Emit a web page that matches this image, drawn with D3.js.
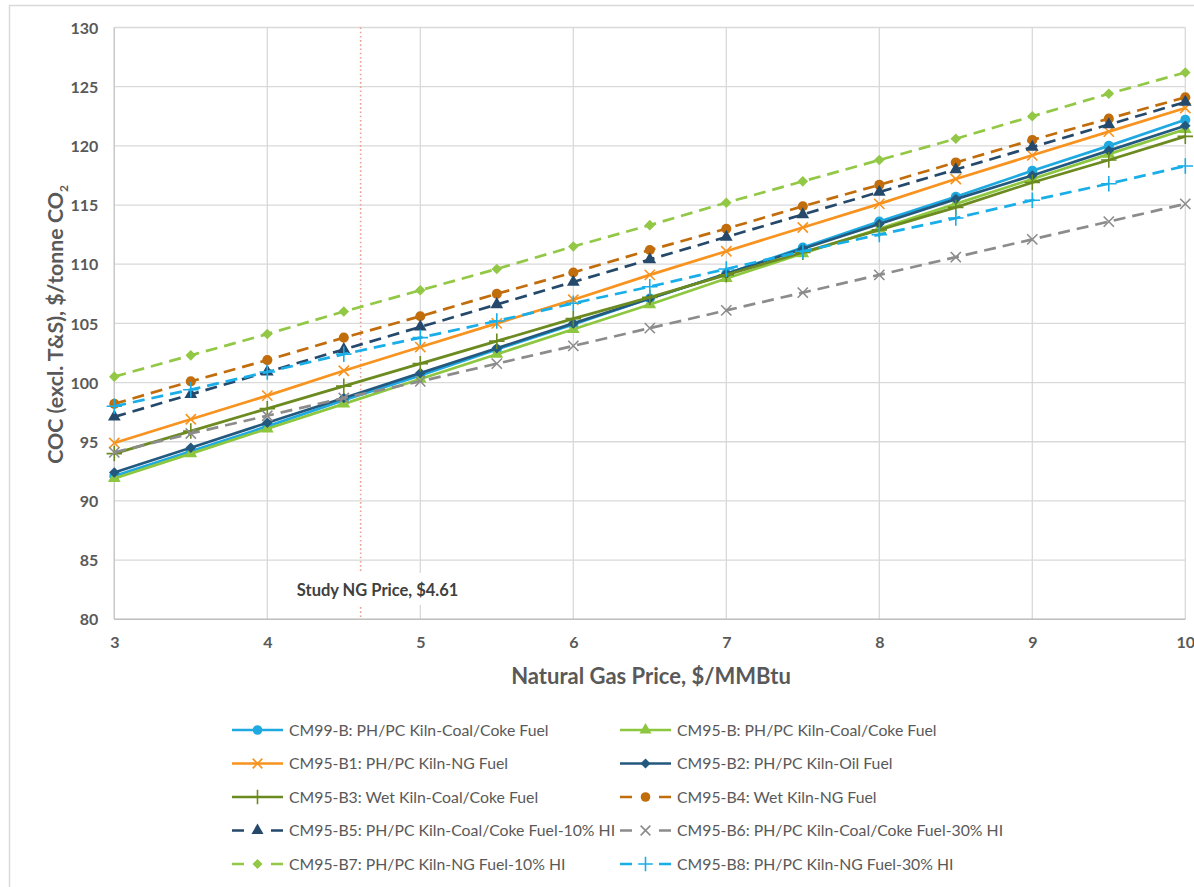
<!DOCTYPE html>
<html><head><meta charset="utf-8">
<script src="https://cdn.jsdelivr.net/npm/d3@7"></script>
<style>
html,body{margin:0;padding:0;background:#fff;}
svg{display:block;font-family:Lato,"Open Sans",sans-serif;}
</style></head>
<body><svg id="chart" width="1194" height="887"></svg>
<script>
const prices = [3,3.5,4,4.5,5,5.5,6,6.5,7,7.5,8,8.5,9,9.5,10];
const cm99b = [92.1,94.2,96.3,98.5,100.6,102.8,104.9,107.1,109.2,111.4,113.6,115.7,117.9,120.0,122.2];
const cm95b = [91.9,94.0,96.1,98.2,100.3,102.4,104.5,106.6,108.8,110.9,113.0,115.1,117.2,119.3,121.4];
const cm95b1 = [94.9,96.9,98.9,101.0,103.0,105.0,107.0,109.1,111.1,113.1,115.1,117.2,119.2,121.2,123.2];
const cm95b2 = [92.4,94.5,96.6,98.7,100.8,102.9,105.0,107.1,109.2,111.3,113.4,115.5,117.5,119.6,121.7];
const cm95b3 = [94.0,95.9,97.8,99.7,101.6,103.5,105.4,107.2,109.1,111.0,112.9,114.8,116.9,118.8,120.8];
const cm95b4 = [98.2,100.1,101.9,103.8,105.6,107.5,109.3,111.2,113.0,114.9,116.7,118.6,120.5,122.3,124.1];
const cm95b5 = [97.1,99.0,100.9,102.8,104.7,106.6,108.5,110.4,112.3,114.2,116.1,118.0,119.9,121.8,123.7];
const cm95b6 = [94.1,95.7,97.2,98.7,100.1,101.6,103.1,104.6,106.1,107.6,109.1,110.6,112.1,113.6,115.1];
const cm95b7 = [100.5,102.3,104.1,106.0,107.8,109.6,111.5,113.3,115.2,117.0,118.8,120.6,122.5,124.4,126.2];
const cm95b8 = [98.0,99.4,100.9,102.4,103.8,105.2,106.7,108.1,109.6,111.1,112.5,113.9,115.4,116.8,118.3];
const seriesNames = [
  "CM99-B: PH/PC Kiln-Coal/Coke Fuel",
  "CM95-B: PH/PC Kiln-Coal/Coke Fuel",
  "CM95-B1: PH/PC Kiln-NG Fuel",
  "CM95-B2: PH/PC Kiln-Oil Fuel",
  "CM95-B3: Wet Kiln-Coal/Coke Fuel",
  "CM95-B4: Wet Kiln-NG Fuel",
  "CM95-B5: PH/PC Kiln-Coal/Coke Fuel-10% HI",
  "CM95-B6: PH/PC Kiln-Coal/Coke Fuel-30% HI",
  "CM95-B7: PH/PC Kiln-NG Fuel-10% HI",
  "CM95-B8: PH/PC Kiln-NG Fuel-30% HI"
];
const yTicks = [80,85,90,95,100,105,110,115,120,125,130];
const xTicks = [3,4,5,6,7,8,9,10];
const studyPrice = 4.61;
const studyLabel = "Study NG Price, $4.61";
const xTitle = "Natural Gas Price, $/MMBtu";
const yTitleMain = "COC (excl. T&S), $/tonne CO";
const yTitleSub = "2";

const values = [cm99b,cm95b,cm95b1,cm95b2,cm95b3,cm95b4,cm95b5,cm95b6,cm95b7,cm95b8];
const styles = [
  {color:"#1EA9E1", dash:null, sym:"circle"},
  {color:"#8DC63F", dash:null, sym:"triangle"},
  {color:"#F7931E", dash:null, sym:"times"},
  {color:"#24597F", dash:null, sym:"diamond"},
  {color:"#6B8A1F", dash:null, sym:"plus"},
  {color:"#C26D0C", dash:"12,7", sym:"circle"},
  {color:"#25496B", dash:"12,7", sym:"triangle"},
  {color:"#8C8C8C", dash:"12,7", sym:"times"},
  {color:"#92C846", dash:"12,7", sym:"diamond"},
  {color:"#1AAEE8", dash:"12,7", sym:"plus"}
];

const svg = d3.select("#chart");
const x = d3.scaleLinear().domain([3,10]).range([114.3,1185.3]);
const y = d3.scaleLinear().domain([80,130]).range([619.3,27.5]);

function fit(textSel, target){
  const fs = parseFloat(textSel.attr("font-size"));
  const w = textSel.node().getComputedTextLength();
  if (w > 0) textSel.attr("font-size", fs*target/w);
}

// outer border
svg.append("rect").attr("x",9.5).attr("y",5.5).attr("width",1200).attr("height",900)
  .attr("fill","none").attr("stroke","#d9d9d9").attr("stroke-width",1.5);

// gridlines
svg.append("g").selectAll("line").data(yTicks).join("line")
  .attr("x1",x(3)).attr("x2",x(10)).attr("y1",d=>y(d)).attr("y2",d=>y(d))
  .attr("stroke","#d9d9d9").attr("stroke-width",1.3);
svg.append("g").selectAll("line").data(xTicks).join("line")
  .attr("y1",y(80)).attr("y2",y(130)).attr("x1",d=>x(d)).attr("x2",d=>x(d))
  .attr("stroke","#d9d9d9").attr("stroke-width",1.3);
svg.append("line").attr("x1",x(3)).attr("x2",x(10)).attr("y1",y(80)).attr("y2",y(80))
  .attr("stroke","#bfbfbf").attr("stroke-width",1.5);
svg.append("line").attr("x1",x(3)).attr("x2",x(3)).attr("y1",y(80)).attr("y2",y(130))
  .attr("stroke","#c8c8c8").attr("stroke-width",1.3);

// axes labels via d3 axes
const yAxis = svg.append("g").attr("transform",`translate(${x(3)-16},0)`)
  .call(d3.axisLeft(y).tickValues(yTicks).tickSize(0).tickPadding(0));
yAxis.select(".domain").remove();
yAxis.selectAll("text").attr("fill","#595959").attr("font-size",16).attr("font-weight","bold")
  .attr("font-family","Lato, sans-serif").attr("dy","0.35em");
const xAxis = svg.append("g").attr("transform",`translate(0,${y(80)+17})`)
  .call(d3.axisBottom(x).tickValues(xTicks).tickSize(0).tickPadding(0).tickFormat(d3.format("d")));
xAxis.select(".domain").remove();
xAxis.selectAll("text").attr("fill","#595959").attr("font-size",16).attr("font-weight","bold")
  .attr("font-family","Lato, sans-serif");

// study price marker
svg.append("line").attr("x1",x(studyPrice)).attr("x2",x(studyPrice)).attr("y1",y(130)).attr("y2",y(80))
  .attr("stroke","#E9A291").attr("stroke-width",1.6).attr("stroke-dasharray","1.6,2.6");
svg.append("rect").attr("x",x(studyPrice)-70).attr("y",573).attr("width",174).attr("height",32).attr("fill","#fff");
svg.append("text").attr("x",x(studyPrice)+17).attr("y",596).attr("text-anchor","middle")
  .attr("font-size",16.5).attr("font-weight","bold").attr("fill","#404040").text(studyLabel);

// axis titles
svg.append("text").attr("x",651).attr("y",684).attr("text-anchor","middle")
  .attr("font-size",22).attr("font-weight","bold").attr("fill","#595959").text(xTitle);
const yt = svg.append("text").attr("transform",`translate(63,${y(105)+1}) rotate(-90)`).attr("text-anchor","middle")
  .attr("font-size",18.5).attr("font-weight","bold").attr("fill","#595959");
yt.append("tspan").text(yTitleMain);
yt.append("tspan").attr("font-size",12).attr("dy",5).text(yTitleSub);
fit(yt, 280);

// symbols
function symPath(type, scale){
  const map = {circle:[d3.symbolCircle,80], triangle:[d3.symbolTriangle,70], diamond:[d3.symbolSquare,56],
               times:[d3.symbolTimes,70], plus:[d3.symbolPlus,80]};
  const m = map[type];
  return d3.symbol().type(m[0]).size(m[1]*(scale||1))();
}
function isStroke(t){return t==="times"||t==="plus";}
function rot(t){return t==="diamond"?" rotate(45)":"";}

const line = d3.line().x(d=>x(d[0])).y(d=>y(d[1]));
const plot = svg.append("g");
values.forEach((vals,i)=>{
  const st = styles[i];
  const pts = prices.map((p,j)=>[p,vals[j]]);
  const g = plot.append("g");
  g.append("path").datum(pts).attr("d",line).attr("fill","none").attr("stroke",st.color)
    .attr("stroke-width",2.7).attr("stroke-dasharray",st.dash);
  g.selectAll("path.m").data(pts).join("path").attr("class","m")
    .attr("transform",d=>`translate(${x(d[0])},${y(d[1])})${rot(st.sym)}`)
    .attr("d",symPath(st.sym))
    .attr("fill",isStroke(st.sym)?"none":st.color)
    .attr("stroke",st.color).attr("stroke-width",isStroke(st.sym)?1.6:0);
});

// legend
const legRows = [730,763.5,797,830.5,864];
const legCols = [232,620];
seriesNames.forEach((name,i)=>{
  const st = styles[i];
  const lx = legCols[i%2], ly = legRows[Math.floor(i/2)];
  const g = svg.append("g").attr("transform",`translate(${lx},${ly})`);
  g.append("line").attr("x1",0).attr("x2",51).attr("y1",0).attr("y2",0).attr("stroke",st.color)
    .attr("stroke-width",2.7).attr("stroke-dasharray",st.dash?"12,27":null);
  g.append("path").attr("transform","translate(25.5,0)"+rot(st.sym)).attr("d",symPath(st.sym,0.9))
    .attr("fill",isStroke(st.sym)?"none":st.color).attr("stroke",st.color)
    .attr("stroke-width",isStroke(st.sym)?1.6:0);
  g.append("text").attr("x",57).attr("y",0).attr("dy","0.35em").attr("font-size",15.8)
    .attr("fill","#595959").text(name);
});
</script></body></html>
